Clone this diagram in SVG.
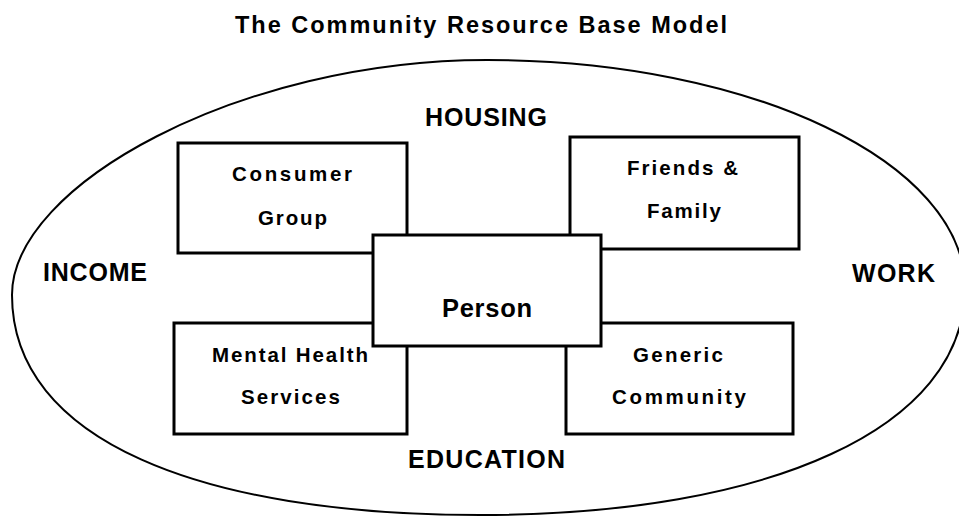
<svg xmlns="http://www.w3.org/2000/svg" width="959" height="516" viewBox="0 0 959 516">
  <style>
    .bg { fill: #ffffff; }
    .boundary { fill: none; stroke: #000; stroke-width: 2; }
    .box { fill: #ffffff; stroke: #000; stroke-width: 3; }
    text { font-family: "Liberation Sans", Arial, Helvetica, sans-serif; font-weight: bold; fill: #000; text-anchor: middle; }
    .title { font-size: 23.5px; }
    .area { font-size: 25px; }
    .label { font-size: 20.5px; }
    .core { font-size: 25.5px; }
  </style>

  <rect class="bg" x="0" y="0" width="959" height="516"/>

  <text class="title" x="481" y="33" textLength="492" lengthAdjust="spacing">The Community Resource Base Model</text>

  <!-- community boundary -->
  <g id="community">
    <path class="boundary" d="M487,60 C240,60 12,185 12,295 C12,440 200,515 480,515 C770,515 965,428 965,288 C965,162 751,60 487,60 Z"/>
  </g>

  <!-- life areas around the person -->
  <g id="areas">
    <text class="area" x="486" y="126" textLength="122" lengthAdjust="spacing">HOUSING</text>
    <text class="area" x="95" y="281" textLength="104" lengthAdjust="spacing">INCOME</text>
    <text class="area" x="893.5" y="282" textLength="83" lengthAdjust="spacing">WORK</text>
    <text class="area" x="486.5" y="468" textLength="157" lengthAdjust="spacing">EDUCATION</text>
  </g>

  <g id="consumer-group">
    <rect class="box" x="178" y="143" width="229" height="110"/>
    <text class="label" x="292" y="181" textLength="120" lengthAdjust="spacing">Consumer</text>
    <text class="label" x="292.5" y="225" textLength="69" lengthAdjust="spacing">Group</text>
  </g>

  <g id="friends-family">
    <rect class="box" x="570" y="137" width="229" height="112"/>
    <text class="label" x="682.5" y="175" textLength="111" lengthAdjust="spacing">Friends &amp;</text>
    <text class="label" x="684" y="218" textLength="74" lengthAdjust="spacing">Family</text>
  </g>

  <g id="mental-health-services">
    <rect class="box" x="174" y="323" width="233" height="111"/>
    <text class="label" x="290" y="362" textLength="156" lengthAdjust="spacing">Mental Health</text>
    <text class="label" x="290.5" y="404" textLength="99" lengthAdjust="spacing">Services</text>
  </g>

  <g id="generic-community">
    <rect class="box" x="566" y="323" width="227" height="111"/>
    <text class="label" x="678" y="362" textLength="90" lengthAdjust="spacing">Generic</text>
    <text class="label" x="679" y="404" textLength="134" lengthAdjust="spacing">Community</text>
  </g>

  <!-- the person sits on top of the four resource boxes -->
  <g id="person">
    <rect class="box" x="373" y="235" width="228" height="111"/>
    <text class="core" x="487" y="317" textLength="90" lengthAdjust="spacing">Person</text>
  </g>
</svg>
